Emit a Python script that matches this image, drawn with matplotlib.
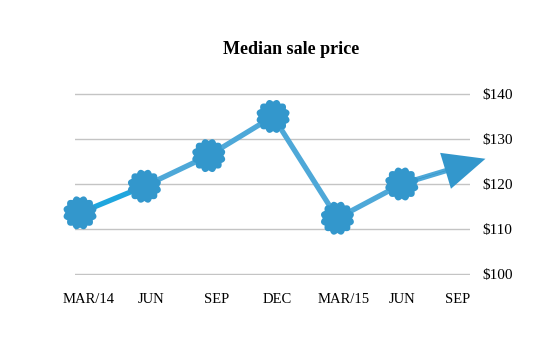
import numpy as np
import matplotlib.pyplot as plt
from matplotlib.path import Path

quarters = ["MAR/14", "JUN", "SEP", "DEC", "MAR/15", "JUN", "SEP"]
median_price = [113.6, 119.5, 126.3, 135.0, 112.4, 120.0]
trend_tip = (6.3, 125.6)   # where the forecast arrow ends
price_ticks = [100, 110, 120, 130, 140]

line_color = "#4ea8d8"
first_color = "#1fa6de"
marker_color = "#3397cc"

# scalloped badge used as the point marker
theta = np.linspace(0, 2 * np.pi, 241)
r = 0.87 + 0.13 * np.abs(np.sin(6 * theta))
badge = Path(np.column_stack([r * np.cos(theta), r * np.sin(theta)]), closed=True)

fig = plt.figure(figsize=(5.5, 3.5), dpi=100)
ax = fig.add_axes([75 / 550, 75 / 350, 395 / 550, 182 / 350])

x = np.arange(len(median_price))
ax.plot(x[1:], median_price[1:], color=line_color, lw=3.8, solid_capstyle="butt",
        clip_on=False, zorder=3)
ax.plot(x[:2], median_price[:2], color=first_color, lw=3.8, clip_on=False, zorder=3)

# forecast arrow: thick shaft plus a filled head
shaft_end = (x[-1] + 0.75 * (trend_tip[0] - x[-1]),
             median_price[-1] + 0.75 * (trend_tip[1] - median_price[-1]))
ax.plot([x[-1], shaft_end[0]], [median_price[-1], shaft_end[1]], color=line_color,
        lw=3.8, solid_capstyle="butt", clip_on=False, zorder=3)
ax.annotate("", xy=trend_tip, xytext=(x[-1], median_price[-1]),
            arrowprops=dict(width=0.5, headwidth=27, headlength=30,
                            facecolor=marker_color, edgecolor="none", shrink=0),
            annotation_clip=False, zorder=4)

ax.scatter(x, median_price, marker=badge, s=560, color=marker_color,
           edgecolors="none", clip_on=False, zorder=5)

ax.set_xlim(-0.078, 6.06)
ax.set_ylim(99.8, 140.2)
ax.set_yticks(price_ticks)
ax.set_yticklabels([f"${v}" for v in price_ticks])
ax.yaxis.tick_right()
ax.set_xticks(np.arange(len(quarters)) + np.array([0.14, 0.1, 0.12, 0.07, 0.09, 0, -0.14]))
ax.set_xticklabels(quarters)
ax.tick_params(length=0, labelsize=10.5, labelfontfamily="Liberation Serif")
ax.tick_params(axis="y", pad=9, labelsize=11)
ax.tick_params(axis="x", pad=13)
ax.grid(axis="y", color="#c4c4c4", lw=1)
ax.set_axisbelow(True)
for s in ax.spines.values():
    s.set_visible(False)

fig.text(291 / 550, 1 - 50 / 350, "Median sale price", ha="center", va="center",
         fontsize=13, fontweight="bold", family="Liberation Serif")

fig.savefig("out.png", dpi=100)
